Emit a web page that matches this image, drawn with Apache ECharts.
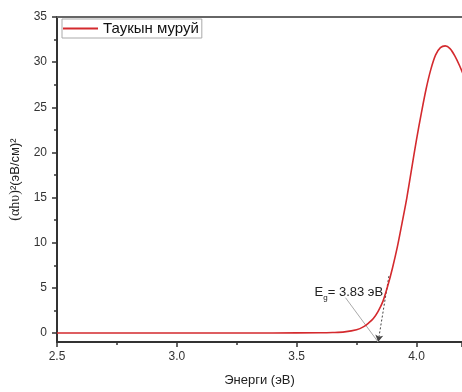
<!DOCTYPE html>
<html>
<head>
<meta charset="utf-8">
<script src="https://cdn.jsdelivr.net/npm/echarts@6/dist/echarts.min.js"></script>
<style>
  html, body { margin: 0; padding: 0; background: #fff; }
  #chart { width: 462px; height: 392px; }
</style>
</head>
<body>
<div id="chart"></div>
<script>
// кривая Таука
var energy = [2.5, 3.0, 3.4, 3.6, 3.65, 3.7, 3.75, 3.78, 3.8, 3.82, 3.84, 3.86, 3.88, 3.9, 3.92, 3.94, 3.96, 3.98,
              4.0, 4.02, 4.04, 4.06, 4.08, 4.1, 4.12, 4.14, 4.16, 4.18, 4.2];
var tauc = [0, 0, 0, 0.02, 0.05, 0.12, 0.35, 0.7, 1.1, 1.6, 2.4, 3.5, 5.2, 7.2, 9.5, 12.2, 15.0, 18.2,
            21.4, 24.3, 27.0, 29.2, 30.8, 31.6, 31.8, 31.5, 30.7, 29.6, 28.3];
var seriesName = "Таукын муруй";

var yMajorTicks = [0, 5, 10, 15, 20, 25, 30, 35];
var yMinorTicks = [2.5, 7.5, 12.5, 17.5, 22.5, 27.5, 32.5];

// касательная и подпись Eg
var tangentLine = [[3.84, -1], [3.885, 6.3]];
var pointerLine = [[3.704, 3.9], [3.84, -1]];
var egLabelPos = [3.575, 4.5];
var egText = "3.83 эВ";

var chart = echarts.init(document.getElementById("chart"));
var font = "Liberation Sans, Arial, sans-serif";

chart.setOption({
    animation: false,
    backgroundColor: "#fff",
    grid: { left: 57, right: 0, top: 17, bottom: 45 },
    legend: {
        data: [seriesName],
        left: 62,
        top: 19,
        padding: [2, 3, 2, 1],
        itemWidth: 35,
        itemHeight: 2,
        itemGap: 6,
        icon: "rect",
        borderColor: "#aaa",
        borderWidth: 1,
        backgroundColor: "#fff",
        textStyle: { fontFamily: font, fontSize: 15, color: "#111" }
    },
    xAxis: [
        {
            type: "value",
            min: 2.5,
            max: 4.19,
            interval: 0.5,
            name: "Энерги (эВ)",
            nameLocation: "middle",
            nameGap: 32,
            nameTextStyle: { fontFamily: font, fontSize: 13, color: "#222" },
            axisLine: { onZero: false, lineStyle: { color: "#333", width: 2 } },
            axisTick: { length: 5, lineStyle: { color: "#333", width: 1.5 } },
            minorTick: { show: true, splitNumber: 2, length: 3, lineStyle: { color: "#333", width: 1.5 } },
            axisLabel: {
                fontFamily: font, fontSize: 12, color: "#333", margin: 9,
                showMaxLabel: false,
                formatter: function (v) { return v.toFixed(1); }
            },
            splitLine: { show: false }
        },
        {
            type: "value",
            position: "top",
            min: 2.5,
            max: 4.19,
            axisLine: { show: true, onZero: false, lineStyle: { color: "#666", width: 2 } },
            axisTick: { show: false },
            axisLabel: { show: false },
            splitLine: { show: false }
        }
    ],
    yAxis: [
        {
            type: "value",
            min: -1,
            max: 35,
            name: "{s|(αhυ)}{n|²(эВ/см)²}",
            nameLocation: "middle",
            nameGap: 29,
            nameTextStyle: {
                color: "#222",
                rich: {
                    s: { fontFamily: "Liberation Serif, Times New Roman, serif", fontSize: 14, color: "#222" },
                    n: { fontFamily: font, fontSize: 13, color: "#222" }
                }
            },
            axisLine: { show: true, onZero: false, lineStyle: { color: "#333", width: 2 } },
            axisTick: { length: 5, customValues: yMajorTicks, lineStyle: { color: "#333", width: 1.5 } },
            axisLabel: { fontFamily: font, fontSize: 12, color: "#333", margin: 10, customValues: yMajorTicks },
            splitLine: { show: false }
        },
        {
            type: "value",
            position: "left",
            min: -1,
            max: 35,
            axisLine: { show: false },
            axisTick: { show: true, length: 3, customValues: yMinorTicks, lineStyle: { color: "#333", width: 1.5 } },
            axisLabel: { show: false },
            splitLine: { show: false }
        }
    ],
    series: [
        {
            name: "annot",
            type: "line",
            data: [],
            silent: true,
            markLine: {
                silent: true,
                animation: false,
                label: { show: false },
                data: [
                    [
                        { coord: tangentLine[1], symbol: "none", lineStyle: { color: "#444", width: 1, type: [2, 2] } },
                        { coord: tangentLine[0], symbol: "arrow", symbolSize: [6, 7] }
                    ],
                    [
                        { coord: pointerLine[0], symbol: "none", lineStyle: { color: "#aaa", width: 1, type: "solid" } },
                        { coord: pointerLine[1], symbol: "none" }
                    ]
                ]
            },
            markPoint: {
                silent: true,
                symbol: "circle",
                symbolSize: 0,
                data: [{ coord: egLabelPos }],
                label: {
                    show: true,
                    position: "right",
                    distance: 0,
                    formatter: "{a|E}{sub|g}{a|= " + egText + "}",
                    rich: {
                        a: { fontFamily: font, fontSize: 13, color: "#222", lineHeight: 18 },
                        sub: { fontFamily: font, fontSize: 8, color: "#222", lineHeight: 14, verticalAlign: "bottom" }
                    }
                }
            }
        },
        {
            name: seriesName,
            type: "line",
            data: energy.map(function (e, i) { return [e, tauc[i]]; }),
            smooth: 0.3,
            showSymbol: false,
            color: "#d42a2e",
            lineStyle: { color: "#d42a2e", width: 1.6 },
            z: 5
        }
    ]
});
</script>
</body>
</html>
